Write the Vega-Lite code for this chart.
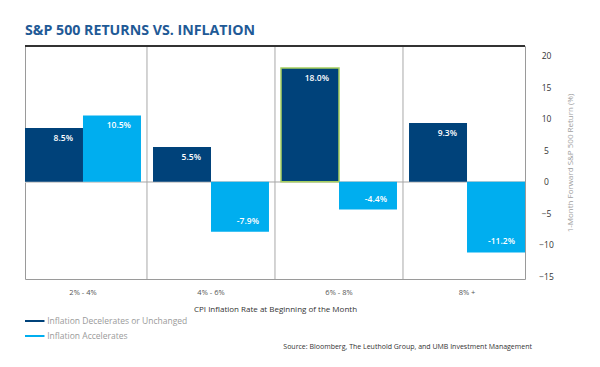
{
  "$schema": "https://vega.github.io/schema/vega-lite/v6.json",
  "width": 500,
  "height": 233,
  "autosize": {"type": "none"},
  "padding": {"left": 25, "top": 46, "right": 75, "bottom": 88},
  "background": "white",
  "config": {
    "font": "Open Sans",
    "view": {"stroke": "#9a9a9a", "strokeWidth": 1}
  },
  "title": {
    "text": "S&P 500 RETURNS VS. INFLATION",
    "anchor": "start",
    "frame": "group",
    "font": "Open Sans",
    "fontSize": 14.2,
    "fontWeight": "bold",
    "color": "#1f5a96",
    "baseline": "alphabetic",
    "offset": -4
  },
  "data": {
    "values": [
      {"range": "2% - 4%", "type": "Inflation Decelerates or Unchanged", "ret": 8.5, "label": "8.5%"},
      {"range": "2% - 4%", "type": "Inflation Accelerates", "ret": 10.5, "label": "10.5%"},
      {"range": "4% - 6%", "type": "Inflation Decelerates or Unchanged", "ret": 5.5, "label": "5.5%"},
      {"range": "4% - 6%", "type": "Inflation Accelerates", "ret": -7.9, "label": "-7.9%"},
      {"range": "6% - 8%", "type": "Inflation Decelerates or Unchanged", "ret": 18.0, "label": "18.0%"},
      {"range": "6% - 8%", "type": "Inflation Accelerates", "ret": -4.4, "label": "-4.4%"},
      {"range": "8% +", "type": "Inflation Decelerates or Unchanged", "ret": 9.3, "label": "9.3%"},
      {"range": "8% +", "type": "Inflation Accelerates", "ret": -11.2, "label": "-11.2%"}
    ]
  },
  "encoding": {
    "x": {
      "field": "range",
      "type": "nominal",
      "sort": ["2% - 4%", "4% - 6%", "6% - 8%", "8% +"],
      "scale": {"paddingInner": 0.094, "paddingOuter": 0},
      "axis": {
        "title": "CPI Inflation Rate at Beginning of the Month",
        "labelAngle": 0,
        "labelFontSize": 7.5,
        "labelColor": "#555555",
        "labelPadding": 9,
        "ticks": false,
        "tickSize": 0,
        "domain": false,
        "grid": false,
        "titleFontSize": 8,
        "titleFontWeight": "normal",
        "titleColor": "#333333",
        "titlePadding": 10
      }
    },
    "y": {
      "field": "ret",
      "type": "quantitative",
      "scale": {"domain": [-15.4, 21.5], "nice": false, "zero": false},
      "axis": {
        "orient": "right",
        "values": [-15, -10, -5, 0, 5, 10, 15, 20],
        "labelOverlap": false,
        "grid": false,
        "ticks": false,
        "tickSize": 0,
        "domain": false,
        "labelAlign": "center",
        "labelPadding": 21,
        "labelFontSize": 8.5,
        "labelColor": "#333333",
        "title": "1-Month Forward S&P 500 Return (%)",
        "titleAngle": 270,
        "titleFontSize": 8,
        "titleFontWeight": "normal",
        "titleColor": "#a0a0a0",
        "titlePadding": 21
      }
    }
  },
  "layer": [
    {
      "mark": {"type": "rule", "color": "#d0d0d0", "strokeWidth": 1},
      "encoding": {"y": {"datum": 0}, "x": null}
    },
    {
      "transform": [{"filter": "datum.range !== '8% +' && datum.type === 'Inflation Accelerates'"}],
      "mark": {"type": "rule", "color": "#a8a8a8", "strokeWidth": 1},
      "encoding": {
        "x": {
          "field": "range",
          "type": "nominal",
          "sort": ["2% - 4%", "4% - 6%", "6% - 8%", "8% +"],
          "bandPosition": 1.0517
        },
        "y": null
      }
    },
    {
      "mark": {"type": "bar"},
      "encoding": {
        "xOffset": {
          "field": "type",
          "type": "nominal",
          "sort": ["Inflation Decelerates or Unchanged", "Inflation Accelerates"],
          "scale": {"paddingInner": 0, "paddingOuter": 0}
        },
        "color": {
          "field": "type",
          "type": "nominal",
          "scale": {
            "domain": ["Inflation Decelerates or Unchanged", "Inflation Accelerates"],
            "range": ["#00427a", "#00aeef"]
          },
          "legend": {
            "title": null,
            "orient": "none",
            "legendX": 2.25,
            "legendY": 267.5,
            "direction": "vertical",
            "symbolType": "M-1.3,-0.13H1.3V0.13H-1.3Z",
            "symbolSize": 225,
            "symbolStrokeWidth": 0,
            "labelFontSize": 8.5,
            "labelColor": "#9a9a9a",
            "labelOffset": 5,
            "rowPadding": 3
          }
        },
        "stroke": {
          "condition": {"test": "datum.ret === 18", "value": "#a6cf5f"},
          "value": null
        },
        "strokeWidth": {"value": 1.5}
      }
    },
    {
      "transform": [{"filter": "datum.ret >= 0"}],
      "mark": {"type": "text", "color": "white", "align": "right", "baseline": "middle", "dx": 19, "dy": 10, "fontSize": 8.5, "fontWeight": 600},
      "encoding": {
        "xOffset": {
          "field": "type",
          "type": "nominal",
          "sort": ["Inflation Decelerates or Unchanged", "Inflation Accelerates"]
        },
        "text": {"field": "label"}
      }
    },
    {
      "transform": [{"filter": "datum.ret < 0"}],
      "mark": {"type": "text", "color": "white", "align": "right", "baseline": "middle", "dx": 19, "dy": -11, "fontSize": 8.5, "fontWeight": 600},
      "encoding": {
        "xOffset": {
          "field": "type",
          "type": "nominal",
          "sort": ["Inflation Decelerates or Unchanged", "Inflation Accelerates"]
        },
        "text": {"field": "label"}
      }
    },
    {
      "mark": {"type": "rule", "color": "#333333", "strokeWidth": 1.5},
      "encoding": {"y": {"datum": 21.5}, "x": null}
    },
    {
      "data": {"values": [{"source": "Source: Bloomberg, The Leuthold Group, and UMB Investment Management"}]},
      "mark": {"type": "text", "align": "right", "baseline": "middle", "fontSize": 7, "color": "#333333", "dy": 68, "dx": 7},
      "encoding": {
        "x": {"value": "width"},
        "y": {"value": "height"},
        "text": {"field": "source", "type": "nominal"}
      }
    }
  ]
}
